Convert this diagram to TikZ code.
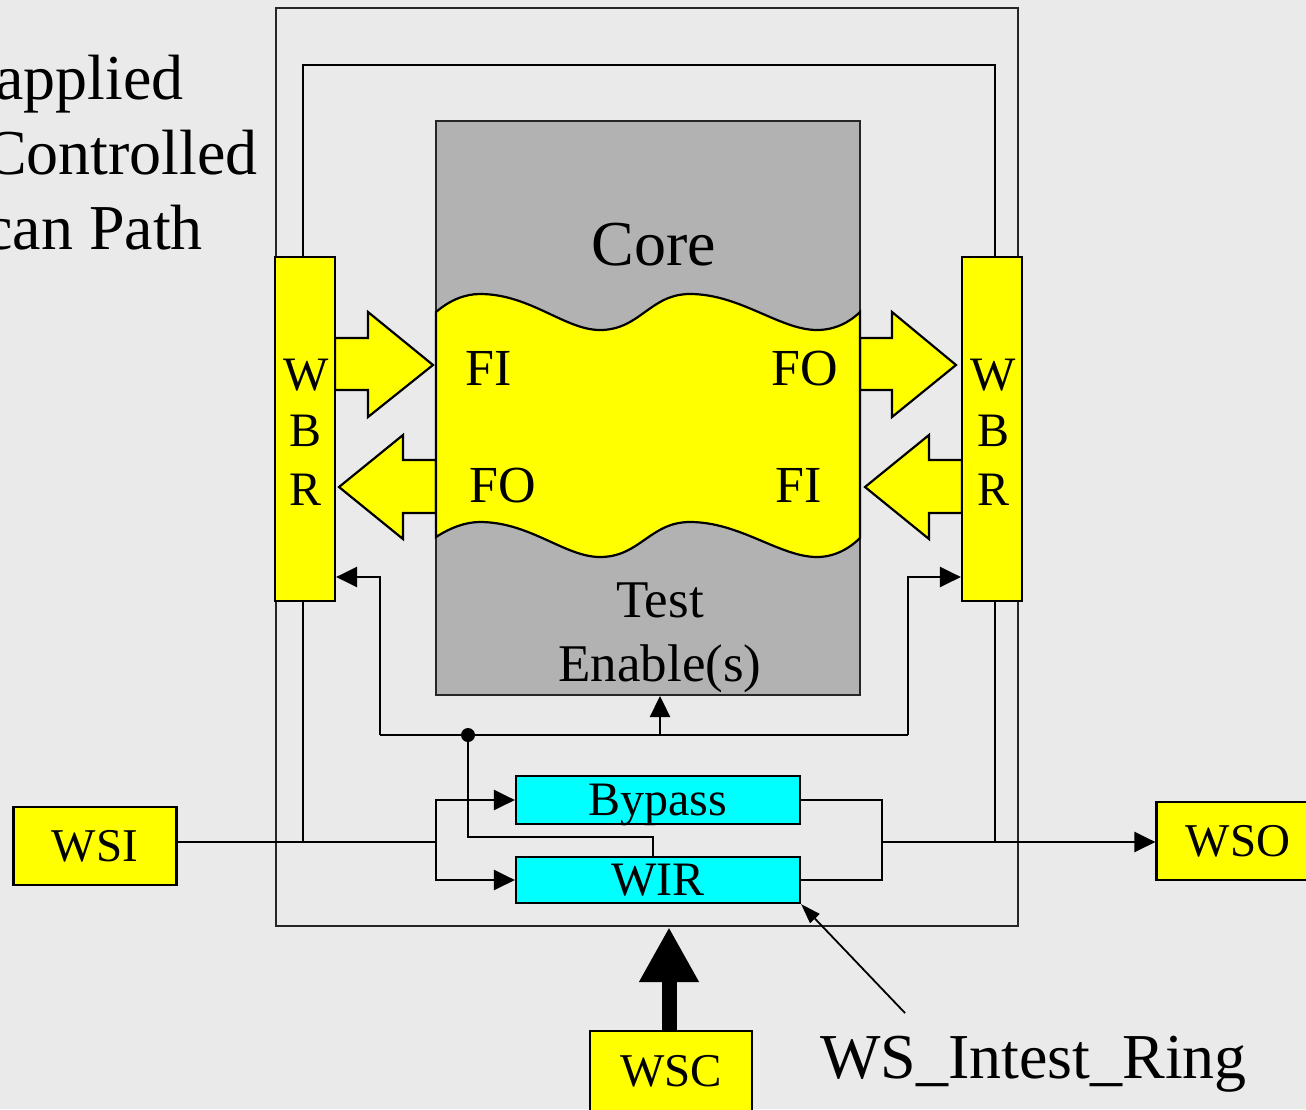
\documentclass[tikz,border=0pt]{standalone}
\usepackage{fontspec}
\setmainfont{Liberation Serif}
\usetikzlibrary{arrows.meta}
\definecolor{bgc}{HTML}{EAEAEA}
\definecolor{coregray}{HTML}{B2B2B2}
\definecolor{yel}{HTML}{FFFF00}
\definecolor{cyn}{HTML}{00FFFF}
\newcommand\fsz[1]{\fontsize{#1pt}{#1pt}\selectfont}
\begin{document}
\begin{tikzpicture}[x=1pt,y=-1pt,
  wire/.style={line width=2.4pt},
  conn/.style={line width=2.4pt, -{Triangle[length=21pt,width=20pt]}},
  ybox/.style={draw, fill=yel, line width=2.2pt, inner sep=0pt, text depth=0pt},
  cbox/.style={draw, fill=cyn, line width=2.2pt, inner sep=0pt, text depth=0pt, minimum width=284pt, font=\fsz{48}},
  blockarrow/.style={draw, fill=yel, line width=2.2pt, line join=miter},
  lbl/.style={inner sep=0pt, anchor=base},
]
\path[fill=bgc] (0,0) rectangle (1306,1109);
\useasboundingbox (0,0) rectangle (1306,1109);
\clip (0,0) rectangle (1306,1109);

% title (cut at the left edge, as in the reference)
\node[lbl, anchor=base east, font=\fsz{64}] (t1) at (184,99) {applied};
\node[lbl, anchor=base east, font=\fsz{64}] (t2) at (258,174) {Controlled};
\node[lbl, anchor=base east, font=\fsz{64}] (t3) at (203,249) {can Path};

% wrapper boundary
\node[draw=black!85, line width=2.2pt, minimum width=742pt, minimum height=918pt, inner sep=0pt] (wrapper) at (647,467) {};

% core
\node[draw=black!85, fill=coregray, line width=2pt, minimum width=424pt, minimum height=574pt, inner sep=0pt] (core) at (648,408) {};
\node[lbl, font=\fsz{64}] (coretxt) at (654,265) {Core};
\node[lbl, font=\fsz{53}] (te1) at (660,617) {Test};
\node[lbl, font=\fsz{53}] (te2) at (660,681) {Enable(s)};

% block arrows
\draw[blockarrow] (335,338) -- (368,338) -- (368,312) -- (433,365) -- (368,417) -- (368,390) -- (335,390) -- cycle;
\draw[blockarrow] (436,460) -- (403,460) -- (403,435) -- (339,487) -- (403,539) -- (403,513) -- (436,513) -- cycle;
\draw[blockarrow] (860,338) -- (892,338) -- (892,312) -- (956,365) -- (892,417) -- (892,390) -- (860,390) -- cycle;
\draw[blockarrow] (962,460) -- (929,460) -- (929,435) -- (865,487) -- (929,539) -- (929,513) -- (962,513) -- cycle;

% wavy band
\draw[fill=yel, line width=2.2pt] (436,312)
  .. controls (450,300) and (465,294) .. (480,294)
  .. controls (530,294) and (565,330) .. (600,330)
  .. controls (640,330) and (650,294) .. (690,294)
  .. controls (740,294) and (780,330) .. (817,330)
  .. controls (835,330) and (850,322) .. (860,312)
  -- (860,538)
  .. controls (850,548) and (835,557) .. (817,557)
  .. controls (780,557) and (740,522) .. (690,522)
  .. controls (650,522) and (640,557) .. (600,557)
  .. controls (565,557) and (530,522) .. (480,522)
  .. controls (465,522) and (450,528) .. (436,537)
  -- cycle;
\node[lbl, anchor=base west, font=\fsz{52}] (fi1) at (465,385) {FI};
\node[lbl, anchor=base west, font=\fsz{52}] (fo1) at (771,385) {FO};
\node[lbl, anchor=base west, font=\fsz{52}] (fo2) at (469,502) {FO};
\node[lbl, anchor=base west, font=\fsz{52}] (fi2) at (775,502) {FI};

% wrapper boundary registers
\node[ybox, minimum width=60pt, minimum height=344pt] (wbrL) at (305,429) {};
\node[ybox, minimum width=60pt, minimum height=344pt] (wbrR) at (992,429) {};
\node[lbl, font=\fsz{48}] (wl1) at (306,390) {W};
\node[lbl, font=\fsz{48}] (wl2) at (306,446) {B};
\node[lbl, font=\fsz{48}] (wl3) at (306,505) {R};
\node[lbl, font=\fsz{48}] (wr1) at (993,390) {W};
\node[lbl, font=\fsz{48}] (wr2) at (993,446) {B};
\node[lbl, font=\fsz{48}] (wr3) at (993,505) {R};

% Bypass and WIR
\node[cbox, minimum height=48pt] (bypass) at (658,800) {Bypass};
\node[cbox, minimum height=46pt] (wir) at (658,880) {WIR};

% terminals
\node[ybox, minimum width=163pt, minimum height=78pt, font=\fsz{47}] (wsi) at (95,846) {WSI};
\node[ybox, minimum width=163pt, minimum height=78pt, font=\fsz{47}] (wso) at (1238,841) {WSO};
\node[ybox, minimum width=162pt, minimum height=80pt, font=\fsz{47}] (wsc) at (671,1071) {WSC};

% scan ring
\coordinate (ringtop) at (650,65);
\draw[wire] ([xshift=-2pt]wbrL.north) |- (ringtop) -| ([xshift=3pt]wbrR.north);
\coordinate (wsiEnd) at (436,842);
\draw[wire] ([yshift=4pt]wsi.east) -- (wsiEnd);
\draw[wire] ([xshift=-2pt]wbrL.south) -- ([xshift=-2pt]wbrL.south |- wsiEnd);
\draw[conn] (wsiEnd) |- (bypass.west);
\draw[conn] (wsiEnd) |- (wir.west);
\coordinate (outJ) at (882,842);
\draw[wire] (bypass.east) -| (outJ) |- (wir.east);
\draw[conn] (outJ) -- (outJ -| wso.west);
\draw[wire] ([xshift=3pt]wbrR.south) -- ([xshift=3pt]wbrR.south |- outJ);

% test enables
\coordinate (tej) at (468,735);
\coordinate (teL) at (380,735);
\coordinate (teR) at (908,735);
\coordinate (teM) at (660,735);
\coordinate (teLy) at (0,577);
\coordinate (tejB) at (468,837);
\draw[wire] (teL) -- (teR);
\draw[conn] (teL) |- (wbrL.east |- teLy);
\draw[conn] (teR) |- (wbrR.west |- teLy);
\draw[conn] (teM) -- (teM |- core.south);
\draw[wire] (tej) -- (tejB) -| ([xshift=-5pt]wir.north);
\fill (tej) circle [radius=7pt];

% WSC control
\draw[line width=15pt, -{Triangle[length=55pt,width=56pt]}] ([xshift=-2pt]wsc.north) -- ([xshift=-2pt]wsc.north |- wrapper.south);

% ring label
\node[lbl, anchor=base west, font=\fsz{64}] (ringlbl) at (820,1078) {WS\_Intest\_Ring};
\coordinate (ringA) at (905,1013);
\draw[line width=1.8pt, -{Triangle[length=20pt,width=13pt]}] (ringA) -- (wir.south east);
\end{tikzpicture}
\end{document}
